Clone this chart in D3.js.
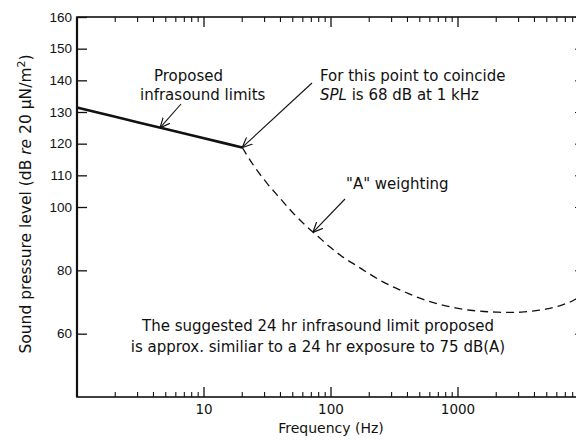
<!DOCTYPE html>
<html>
<head>
<meta charset="utf-8">
<script src="https://cdn.jsdelivr.net/npm/d3@7"></script>
<style>
  body { margin: 0; background: #fff; }
  svg { display: block; font-family: "DejaVu Sans", Verdana, sans-serif; }
  .axis text { font-size: 13.5px; fill: #111; }
  .axis path, .axis line { stroke: #111; }
  .note { font-size: 15px; fill: #111; }
</style>
</head>
<body>
<div class="chart"></div>
<script>
// size of the page and the plot frame
const WIDTH = 576;
const HEIGHT = 440;
const FRAME = { left: 77, right: 585, top: 17, bottom: 397 };

// proposed infrasound limit (solid)
const limitFreq = [1, 2, 5, 10, 20];
const limitLevel = [131.4, 128.5, 124.6, 121.7, 118.8];

// inverted "A" weighting, 68 dB at 1 kHz (dashed)
const aFreq = [20, 25, 31.5, 40, 50, 63, 80, 100, 125, 160, 200, 250, 315, 400, 500,
  630, 800, 1000, 1250, 1600, 2000, 2500, 3150, 4000, 5000, 6300, 8000, 10000];
const aLevel = [118.8, 112.7, 107.4, 102.6, 98.2, 94.2, 90.5, 87.1, 84.1, 81.4, 78.9,
  76.6, 74.6, 72.8, 71.2, 69.9, 68.8, 68.0, 67.4, 67.0, 66.8, 66.7, 66.8, 67.2, 67.8, 68.8, 70.4, 72.6];

// tick values
const yTicks = [60, 80, 100, 110, 120, 130, 140, 150, 160];
const xMajor = [1, 10, 100, 1000, 10000];
const xLabels = [10, 100, 1000];
const xMinor = [];
xMajor.slice(0, 4).forEach((d) => {
  for (let k = 2; k <= 9; k++) xMinor.push(d * k);
});

const x = d3.scaleLog().domain([1, 10000]).range([FRAME.left, FRAME.right]);
const y = d3.scaleLinear().domain([40, 160]).range([FRAME.bottom, FRAME.top]);

const svg = d3
  .select(".chart")
  .append("svg")
  .attr("width", WIDTH)
  .attr("height", HEIGHT);

// open arrow head
svg
  .append("defs")
  .append("marker")
  .attr("id", "arrow")
  .attr("viewBox", "0 0 10 10")
  .attr("refX", 10)
  .attr("refY", 5)
  .attr("markerWidth", 10)
  .attr("markerHeight", 10)
  .attr("markerUnits", "userSpaceOnUse")
  .attr("orient", "auto")
  .append("path")
  .attr("d", "M0,0.5 L10,5 L0,9.5")
  .attr("fill", "none")
  .attr("stroke", "#111")
  .attr("stroke-width", 1.2);

// frame
svg
  .append("rect")
  .attr("x", x(1))
  .attr("y", y(160))
  .attr("width", x(10000) - x(1))
  .attr("height", y(40) - y(160))
  .attr("fill", "none")
  .attr("stroke", "#111")
  .attr("stroke-width", 1.6);

svg
  .append("line")
  .attr("x1", x(1))
  .attr("x2", x(1))
  .attr("y1", y(160))
  .attr("y2", y(40))
  .attr("stroke", "#111")
  .attr("stroke-width", 2.2);

// y axis, ticks pointing inwards
svg
  .append("g")
  .attr("class", "axis")
  .attr("transform", `translate(${x(1)},0)`)
  .call(d3.axisLeft(y).tickValues(yTicks).tickSize(-10).tickPadding(5).tickFormat(d3.format("d")))
  .call((g) => g.select(".domain").remove())
  .call((g) => g.selectAll(".tick line").attr("stroke-width", 1.3));

svg
  .append("g")
  .attr("class", "axis")
  .attr("transform", `translate(${x(10000)},0)`)
  .call(d3.axisRight(y).tickValues(yTicks).tickSize(-10).tickFormat(""))
  .call((g) => g.select(".domain").remove());

// x axes, bottom and top
const drawX = (yPos, dir, labels) => {
  const g = svg.append("g").attr("class", "axis");
  g.selectAll(".major")
    .data(xMajor)
    .join("line")
    .attr("x1", (d) => x(d))
    .attr("x2", (d) => x(d))
    .attr("y1", yPos)
    .attr("y2", yPos + dir * 10)
    .attr("stroke", "#111")
    .attr("stroke-width", 1.3);
  g.selectAll(".minor")
    .data(xMinor)
    .join("line")
    .attr("x1", (d) => x(d))
    .attr("x2", (d) => x(d))
    .attr("y1", yPos)
    .attr("y2", yPos + dir * 5)
    .attr("stroke", "#111")
    .attr("stroke-width", 1.1);
  if (labels) {
    g.selectAll("text")
      .data(xLabels)
      .join("text")
      .attr("x", (d) => x(d))
      .attr("y", yPos + 17)
      .attr("text-anchor", "middle")
      .text((d) => d);
  }
};
drawX(y(40), -1, true);
drawX(y(160), 1, false);

// axis titles
svg
  .append("text")
  .attr("class", "note")
  .attr("x", x(100))
  .attr("y", 433)
  .attr("text-anchor", "middle")
  .style("font-size", "14px")
  .text("Frequency (Hz)");

const yTitle = svg
  .append("text")
  .attr("class", "note")
  .attr("transform", "translate(31,204) rotate(-90)")
  .attr("text-anchor", "middle")
  .style("font-size", "15.5px");
yTitle.append("tspan").text("Sound pressure level (dB ");
yTitle.append("tspan").attr("font-style", "italic").text("re");
yTitle.append("tspan").text(" 20 \u03bcN/m");
yTitle.append("tspan").attr("dy", -6).style("font-size", "11px").text("2");
yTitle.append("tspan").attr("dy", 6).text(")");

// curves
const line = d3
  .line()
  .x((d) => x(d[0]))
  .y((d) => y(d[1]))
  .curve(d3.curveMonotoneX);

svg
  .append("path")
  .datum(d3.zip(limitFreq, limitLevel))
  .attr("d", line)
  .attr("fill", "none")
  .attr("stroke", "#111")
  .attr("stroke-width", 2.6);

svg
  .append("path")
  .datum(d3.zip(aFreq, aLevel))
  .attr("d", line)
  .attr("fill", "none")
  .attr("stroke", "#111")
  .attr("stroke-width", 1.3)
  .attr("stroke-dasharray", "8,5");

// annotations
const note = (tx, ty, parts, anchor) => {
  const t = svg
    .append("text")
    .attr("class", "note")
    .attr("x", tx)
    .attr("y", ty)
    .attr("text-anchor", anchor || "start");
  parts.forEach((p) => {
    t.append("tspan").attr("font-style", p.italic ? "italic" : null).text(p.text);
  });
};
note(154, 81, [{ text: "Proposed" }]);
note(140, 100, [{ text: "infrasound limits" }]);
note(320, 81, [{ text: "For this point to coincide" }]);
note(320, 100, [{ text: "SPL", italic: true }, { text: " is 68 dB at 1 kHz" }]);
note(346, 189, [{ text: "\"A\" weighting" }]);
note(318, 331, [{ text: "The suggested 24 hr infrasound limit proposed" }], "middle");
note(318, 352, [{ text: "is approx. similiar to a 24 hr exposure to 75 dB(A)" }], "middle");

// arrows: tail in pixels, tip on the curves
const arrows = [
  { from: [181, 104], to: [4.5, 125.0] },
  { from: [312, 83], to: [20, 118.8] },
  { from: [345, 199], to: [72, 92.0] },
];
svg
  .selectAll(".arrow")
  .data(arrows)
  .join("line")
  .attr("x1", (d) => d.from[0])
  .attr("y1", (d) => d.from[1])
  .attr("x2", (d) => x(d.to[0]))
  .attr("y2", (d) => y(d.to[1]))
  .attr("stroke", "#111")
  .attr("stroke-width", 1.1)
  .attr("marker-end", "url(#arrow)");
</script>
</body>
</html>
